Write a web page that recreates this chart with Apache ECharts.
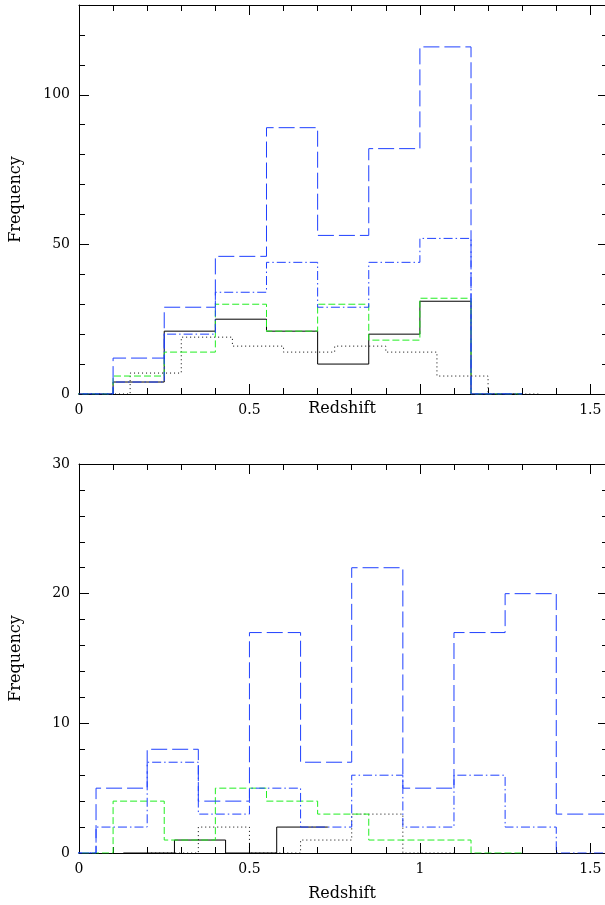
<!DOCTYPE html>
<html>
<head>
<meta charset="utf-8">
<script src="https://cdn.jsdelivr.net/npm/echarts@6/dist/echarts.min.js"></script>
<style>
  html, body { margin: 0; padding: 0; background: #fff; }
  #chart { width: 605px; height: 905px; }
</style>
</head>
<body>
<div id="chart"></div>
<script>
// ---- Upper panel: redshift histograms (bin edges + counts per bin) ----
const topEdges       = [-0.05, 0.1, 0.25, 0.4, 0.55, 0.7, 0.85, 1.0, 1.15, 1.3];
const topDashedBlue  = [0, 12, 29, 46, 89, 53, 82, 116, 0];
const topDashDotBlue = [0, 4, 20, 34, 44, 29, 44, 52, 0];
const topGreen       = [0, 6, 14, 30, 21, 30, 18, 32, 0];
const topSolid       = [0, 4, 21, 25, 21, 10, 20, 31, 0];
const topDottedEdges = [0.0, 0.15, 0.3, 0.45, 0.6, 0.75, 0.9, 1.05, 1.2, 1.35];
const topDotted      = [0, 7, 19, 16, 14, 16, 14, 6, 0];

// ---- Lower panel ----
const botBlueEdges   = [-0.1, 0.05, 0.2, 0.35, 0.5, 0.65, 0.8, 0.95, 1.1, 1.25, 1.4, 1.55];
const botDashedBlue  = [0, 5, 8, 4, 17, 7, 22, 5, 17, 20, 3];
const botDashDotBlue = [0, 2, 7, 3, 5, 2, 6, 2, 6, 2, 0];
const botGreenEdges  = [-0.05, 0.1, 0.25, 0.4, 0.55, 0.7, 0.85, 1.0, 1.15, 1.3];
const botGreen       = [0, 4, 1, 5, 4, 3, 1, 1, 0];
const botSolidEdges  = [0.13, 0.28, 0.43, 0.58, 0.73];
const botSolid       = [0, 1, 0, 2];
const botDottedEdges = [0.2, 0.35, 0.5, 0.65, 0.8, 0.95, 1.1];
const botDotted      = [0, 2, 0, 1, 3, 0];

// axis ranges and tick labels
const xRange = [0, 1.543];
const xMajor = 0.5;
const topYRange = [0, 130];
const topYMajor = 50;
const botYRange = [0, 30];
const botYMajor = 10;
const xTitle = 'Redshift';
const yTitle = 'Frequency';

const BLUE = '#1f40ff';
const GREEN = '#22ee22';
const BLACK = '#000000';
const FONT = 'DejaVu Serif';

// histogram outline: horizontal run across each bin, vertical between bins
function steps(edges, counts) {
  const pts = [];
  for (let i = 0; i < counts.length; i++) {
    pts.push([edges[i], counts[i]]);
    pts.push([edges[i + 1], counts[i]]);
  }
  return pts;
}

function hist(name, edges, counts, color, dash, axis) {
  return {
    name: name,
    type: 'line',
    xAxisIndex: axis,
    yAxisIndex: axis,
    data: steps(edges, counts),
    showSymbol: false,
    symbol: 'none',
    clip: true,
    animation: false,
    silent: true,
    lineStyle: { color: color, width: 1, type: dash }
  };
}

const tickStyle = { color: BLACK, width: 1 };
function xAxis(grid, pos, labels, range, nameGap) {
  return {
    type: 'value', gridIndex: grid, position: pos,
    min: range[0], max: range[1], interval: xMajor,
    axisLine: { show: true, onZero: false, lineStyle: tickStyle },
    axisTick: { show: true, inside: true, length: 10, lineStyle: tickStyle },
    minorTick: { show: true, splitNumber: 5, length: 6, lineStyle: tickStyle },
    splitLine: { show: false }, minorSplitLine: { show: false },
    axisLabel: {
      show: labels, showMaxLabel: false, margin: 9,
      fontFamily: FONT, fontSize: 14, color: BLACK
    },
    name: labels ? xTitle : '',
    nameLocation: 'middle', nameGap: nameGap, nameMoveOverlap: false,
    nameTextStyle: { fontFamily: FONT, fontSize: 16, color: BLACK }
  };
}
function yAxis(grid, pos, labels, range, major, showMax) {
  const right = pos === 'right';
  return {
    type: 'value', gridIndex: grid, position: pos,
    min: range[0], max: range[1], interval: major,
    axisLine: { show: !right, onZero: false, lineStyle: tickStyle },
    axisTick: { show: true, inside: true, length: right ? 7 : 10, lineStyle: tickStyle },
    minorTick: { show: true, splitNumber: 5, length: right ? 3 : 6, lineStyle: tickStyle },
    splitLine: { show: false }, minorSplitLine: { show: false },
    axisLabel: {
      show: labels, showMaxLabel: showMax, margin: 9,
      fontFamily: FONT, fontSize: 14, color: BLACK
    },
    name: labels ? yTitle : '',
    nameLocation: 'middle', nameGap: 55, nameRotate: 90, nameMoveOverlap: false,
    nameTextStyle: { fontFamily: FONT, fontSize: 16, color: BLACK }
  };
}

const chart = echarts.init(document.getElementById('chart'), null, { renderer: 'canvas' });
chart.setOption({
  animation: false,
  backgroundColor: '#ffffff',
  grid: [
    { left: 77, top: 5, width: 528, height: 389, containLabel: false },
    { left: 77, top: 464, width: 528, height: 389, containLabel: false }
  ],
  xAxis: [
    xAxis(0, 'bottom', true, xRange, 7),
    xAxis(0, 'top', false, xRange, 0),
    xAxis(1, 'bottom', true, xRange, 33),
    xAxis(1, 'top', false, xRange, 0)
  ],
  yAxis: [
    yAxis(0, 'left', true, topYRange, topYMajor, false),
    yAxis(0, 'right', false, topYRange, topYMajor, false),
    yAxis(1, 'left', true, botYRange, botYMajor, true),
    yAxis(1, 'right', false, botYRange, botYMajor, true)
  ],
  series: [
    hist('solid', topEdges, topSolid, BLACK, 'solid', 0),
    hist('dotted', topDottedEdges, topDotted, BLACK, [1, 3], 0),
    hist('green', topEdges, topGreen, GREEN, [7, 3], 0),
    hist('dashdot', topEdges, topDashDotBlue, BLUE, [9, 3, 1.5, 3], 0),
    hist('dashed', topEdges, topDashedBlue, BLUE, [16, 5], 0),

    hist('solid', botSolidEdges, botSolid, BLACK, 'solid', 2),
    hist('dotted', botDottedEdges, botDotted, BLACK, [1, 3], 2),
    hist('green', botGreenEdges, botGreen, GREEN, [7, 3], 2),
    hist('dashdot', botBlueEdges, botDashDotBlue, BLUE, [9, 3, 1.5, 3], 2),
    hist('dashed', botBlueEdges, botDashedBlue, BLUE, [16, 5], 2)
  ]
});
</script>
</body>
</html>
